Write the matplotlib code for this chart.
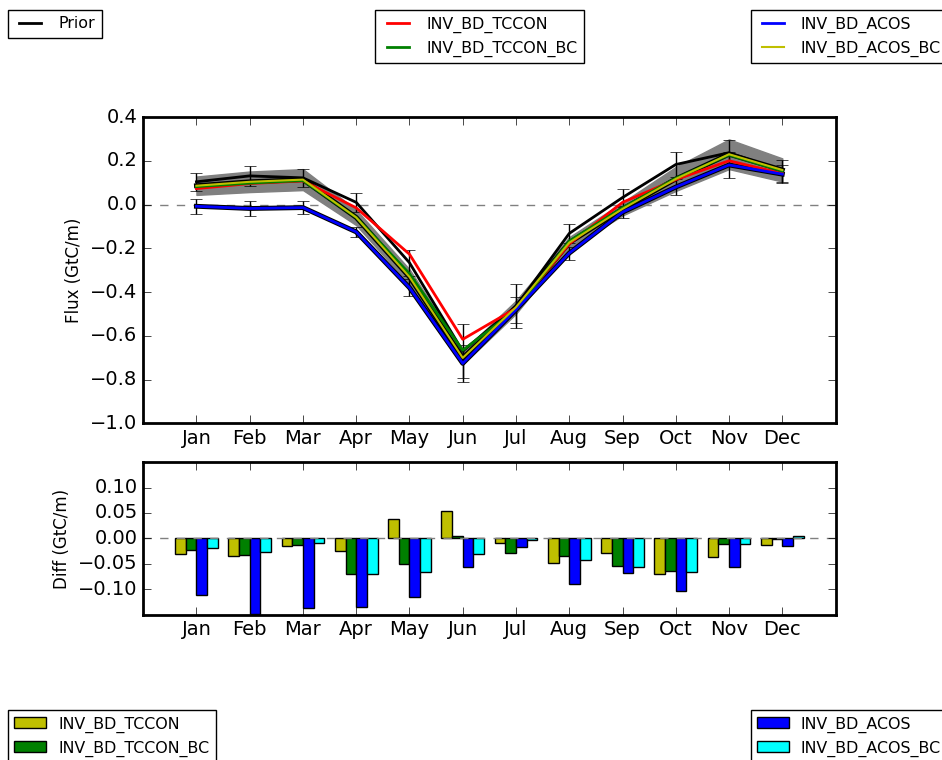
import numpy as np
import matplotlib
matplotlib.use('Agg')
import matplotlib.pyplot as plt

plt.style.use('classic')

months = ['Jan', 'Feb', 'Mar', 'Apr', 'May', 'Jun', 'Jul', 'Aug', 'Sep', 'Oct', 'Nov', 'Dec']

# monthly flux (GtC/m)
prior = [0.104, 0.131, 0.122, 0.010, -0.266, -0.670, -0.465, -0.132, 0.032, 0.183, 0.237, 0.154]
prior_err = [0.042, 0.045, 0.040, 0.042, 0.060, 0.125, 0.100, 0.045, 0.038, 0.055, 0.060, 0.050]
tccon = [0.073, 0.096, 0.108, -0.015, -0.227, -0.616, -0.474, -0.180, 0.010, 0.114, 0.200, 0.142]
tccon_bc = [0.082, 0.098, 0.110, -0.059, -0.316, -0.666, -0.480, -0.167, -0.015, 0.120, 0.227, 0.153]
acos = [-0.008, -0.018, -0.014, -0.125, -0.380, -0.726, -0.481, -0.222, -0.035, 0.080, 0.181, 0.139]
acos_err = [0.033, 0.036, 0.031, 0.023, 0.040, 0.085, 0.060, 0.030, 0.025, 0.037, 0.060, 0.040]
acos_bc = [0.086, 0.104, 0.114, -0.059, -0.331, -0.701, -0.469, -0.174, -0.020, 0.117, 0.230, 0.158]
acos_bc_spread = [0.042, 0.047, 0.048, 0.035, 0.035, 0.030, 0.030, 0.025, 0.030, 0.055, 0.068, 0.053]

# differences to prior
d_tccon = [-0.031, -0.035, -0.014, -0.025, 0.039, 0.054, -0.009, -0.048, -0.029, -0.069, -0.037, -0.012]
d_tccon_bc = [-0.022, -0.033, -0.012, -0.069, -0.050, 0.004, -0.028, -0.035, -0.054, -0.063, -0.010, -0.001]
d_acos = [-0.112, -0.149, -0.136, -0.135, -0.114, -0.056, -0.016, -0.090, -0.067, -0.103, -0.056, -0.015]
d_acos_bc = [-0.018, -0.027, -0.008, -0.069, -0.065, -0.031, -0.004, -0.042, -0.057, -0.066, -0.010, 0.004]

x = np.arange(len(months))
band_lo = np.array(acos_bc) - np.array(acos_bc_spread)
band_hi = np.array(acos_bc) + np.array(acos_bc_spread)

fig = plt.figure(figsize=(9.42, 7.6), dpi=100, facecolor='w')
ax1 = fig.add_axes([0.152, 0.443, 0.735, 0.403])
ax2 = fig.add_axes([0.152, 0.191, 0.735, 0.201])

ax1.fill_between(x, band_lo, band_hi, color='0.5', edgecolor='0.5')
ax1.axhline(0, color='0.5', ls='--', lw=1)
ax1.errorbar(x, prior, yerr=prior_err, color='k', lw=1, capsize=4, fmt='none')
ax1.errorbar(x, acos, yerr=acos_err, color='k', lw=1, capsize=4, fmt='none')
ax1.plot(x, acos, color='k', lw=3.5)
ax1.plot(x, acos_bc, color='k', lw=3.5)
l_prior, = ax1.plot(x, prior, color='k', lw=2)
l_tc, = ax1.plot(x, tccon, color='r', lw=2)
l_tcbc, = ax1.plot(x, tccon_bc, color='g', lw=2)
l_ac, = ax1.plot(x, acos, color='b', lw=2)
l_acbc, = ax1.plot(x, acos_bc, color='y', lw=1.5)
ax1.set_xlim(-1, 12)
ax1.set_ylim(-1.0, 0.4)
ax1.set_yticks(np.arange(-1.0, 0.41, 0.2))
ax1.set_xticks(x)
ax1.set_xticklabels(months)
ax1.set_ylabel('Flux (GtC/m)', fontsize=12)

w = 0.2
b1 = ax2.bar(x - 0.4, d_tccon, w, align='edge', color='y', edgecolor='k')
b2 = ax2.bar(x - 0.2, d_tccon_bc, w, align='edge', color='g', edgecolor='k')
b3 = ax2.bar(x, d_acos, w, align='edge', color='b', edgecolor='k')
b4 = ax2.bar(x + 0.2, d_acos_bc, w, align='edge', color='#00ffff', edgecolor='k')
ax2.axhline(0, color='0.5', ls='--', lw=1)
ax2.set_xlim(-1, 12)
ax2.set_ylim(-0.15, 0.15)
ax2.set_yticks([-0.10, -0.05, 0.0, 0.05, 0.10])
ax2.set_yticklabels(['\u22120.10', '\u22120.05', '0.00', '0.05', '0.10'])
ax2.set_xticks(x)
ax2.set_xticklabels(months)
ax2.set_ylabel('Diff (GtC/m)', fontsize=12)

for ax in (ax1, ax2):
    for s in ax.spines.values():
        s.set_linewidth(2)
    ax.tick_params(labelsize=14, direction='in', length=6)

lkw = dict(fontsize=11.4, borderaxespad=0, fancybox=False, framealpha=1)
top = 1 - 10 / 760.
fig.legend([l_prior], ['Prior'], loc='upper left', bbox_to_anchor=(8 / 942., top), **lkw)
fig.legend([l_tc, l_tcbc], ['INV_BD_TCCON', 'INV_BD_TCCON_BC'], loc='upper center',
           bbox_to_anchor=(479.5 / 942., top), **lkw)
fig.legend([l_ac, l_acbc], ['INV_BD_ACOS', 'INV_BD_ACOS_BC'], loc='upper left',
           bbox_to_anchor=(751 / 942., top), handletextpad=0.7, **lkw)
bot = 1 - 710 / 760.
fig.legend([b1, b2], ['INV_BD_TCCON', 'INV_BD_TCCON_BC'], loc='upper left',
           bbox_to_anchor=(8 / 942., bot), **lkw)
fig.legend([b3, b4], ['INV_BD_ACOS', 'INV_BD_ACOS_BC'], loc='upper left',
           bbox_to_anchor=(751 / 942., bot), handletextpad=0.7, **lkw)

fig.savefig('out.png', dpi=100, facecolor='w')
